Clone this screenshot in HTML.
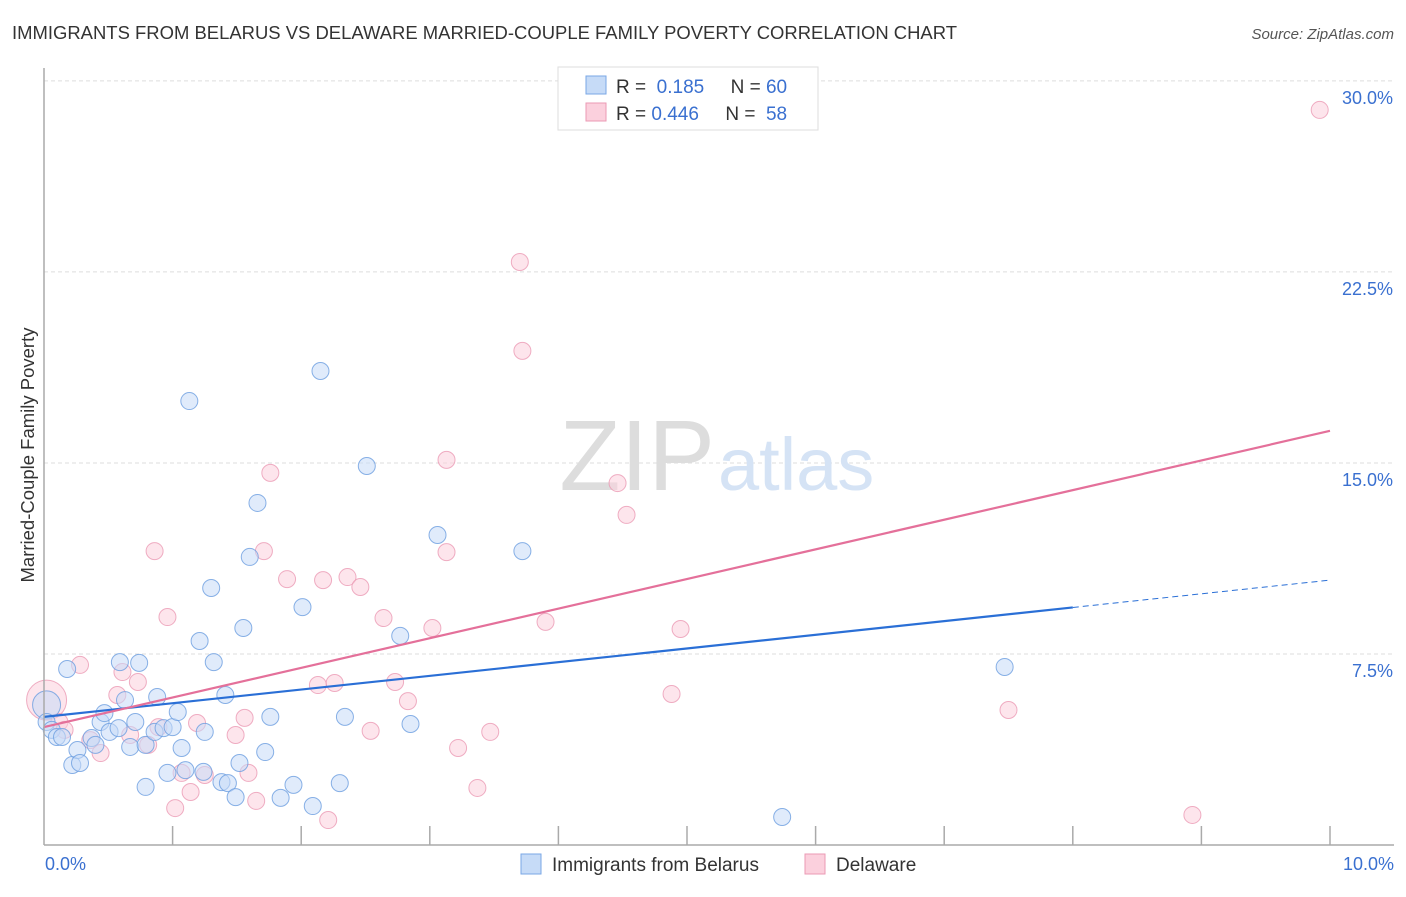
<!DOCTYPE html>
<html><head><meta charset="utf-8"><style>
body{margin:0;background:#fff;font-family:"Liberation Sans",sans-serif;}
svg text{font-family:"Liberation Sans",sans-serif;}
</style></head><body>
<svg width="1406" height="892" viewBox="0 0 1406 892">
<text x="12" y="39" font-size="18" fill="#333" textLength="945" lengthAdjust="spacingAndGlyphs">IMMIGRANTS FROM BELARUS VS DELAWARE MARRIED-COUPLE FAMILY POVERTY CORRELATION CHART</text>
<text x="1394" y="39" font-size="15" fill="#555" font-style="italic" text-anchor="end">Source: ZipAtlas.com</text>
<g id="grid"></g>
<text x="715" y="490" font-size="100" fill="#ddd" text-anchor="end" font-family="Liberation Serif">ZIP</text>
<text x="718" y="490" font-size="74" fill="#d5e3f5">atlas</text>
<g id="pts"></g>
<g id="lines"></g>
<line x1="44" y1="68" x2="44" y2="845" stroke="#aaa" stroke-width="1.5"/>
<line x1="44" y1="845" x2="1394" y2="845" stroke="#aaa" stroke-width="1.5"/>
<g id="ticks"></g>
<text x="34" y="455" font-size="18.5" fill="#333" text-anchor="middle" transform="rotate(-90 34 455)">Married-Couple Family Poverty</text>
<g>
<rect x="558" y="67" width="260" height="63" fill="#fff" stroke="#ddd"/>
<rect x="586" y="76" width="20" height="18" fill="#c6dbf7" stroke="#7aa7e6"/>
<rect x="586" y="103" width="20" height="18" fill="#fbd0dd" stroke="#eb9ab4"/>
<text x="616" y="93" font-size="19" fill="#333">R = <tspan fill="#3a70d0">&#160;0.185</tspan>&#160;&#160;&#160;&#160;&#160;N = <tspan fill="#3a70d0">60</tspan></text>
<text x="616" y="120" font-size="19" fill="#333">R = <tspan fill="#3a70d0">0.446</tspan>&#160;&#160;&#160;&#160;&#160;N = <tspan fill="#3a70d0">&#160;58</tspan></text>
</g>
<g>
<rect x="521" y="854" width="20" height="20" fill="#c6dbf7" stroke="#7aa7e6"/>
<text x="552" y="871" font-size="19" fill="#333">Immigrants from Belarus</text>
<rect x="805" y="854" width="20" height="20" fill="#fbd0dd" stroke="#eb9ab4"/>
<text x="836" y="871" font-size="19" fill="#333">Delaware</text>
</g>
</svg>
<script>
const yTicks=[7.5,15,22.5,30];
const yTickLabels=["7.5%","15.0%","22.5%","30.0%"];
const xTickLabels=["0.0%","10.0%"];
const blueX=[.02,.02,.06,.10,.14,.18,.22,.26,.28,.37,.40,.44,.47,.51,.58,.59,.63,.67,.71,.74,.79,.79,.86,.88,.93,.96,1.00,1.04,1.07,1.10,1.13,1.21,1.24,1.25,1.30,1.32,1.41,1.38,1.43,1.49,1.52,1.55,1.60,1.66,1.72,1.76,1.84,1.94,2.01,2.09,2.15,2.30,2.34,2.51,2.77,2.85,3.06,3.72,5.74,7.47];
const blueY=[5.50,4.83,4.52,4.24,4.24,6.91,3.14,3.73,3.22,4.20,3.93,4.83,5.18,4.44,4.59,7.18,5.69,3.85,4.83,7.15,3.93,2.28,4.44,5.81,4.59,2.83,4.63,5.22,3.81,2.94,17.43,8.01,2.87,4.44,10.09,7.18,5.89,2.47,2.43,1.88,3.22,8.52,11.31,13.43,3.65,5.03,1.85,2.36,9.34,1.53,18.61,2.43,5.03,14.88,8.21,4.75,12.17,11.54,1.10,6.99];
const pinkX=[.02,.12,.16,.28,.36,.44,.57,.61,.67,.73,.81,.86,.89,.96,1.02,1.07,1.14,1.19,1.25,1.49,1.56,1.59,1.65,1.71,1.76,1.89,2.13,2.17,2.21,2.26,2.36,2.46,2.54,2.64,2.73,2.83,3.02,3.13,3.13,3.22,3.37,3.47,3.70,3.72,3.90,4.46,4.53,4.88,4.95,7.50,8.93,9.92];
const pinkY=[5.69,4.83,4.52,7.07,4.12,3.61,5.89,6.79,4.32,6.40,3.93,11.54,4.63,8.95,1.45,2.83,2.08,4.79,2.75,4.32,4.99,2.83,1.73,11.54,14.61,10.44,6.28,10.40,0.98,6.36,10.52,10.13,4.48,8.91,6.40,5.65,8.52,11.50,15.12,3.81,2.24,4.44,22.89,19.40,8.76,14.21,12.96,5.93,8.48,5.30,1.18,28.86];
const blueFit=[5.03,10.40];
const pinkFit=[4.63,16.26];
const blueSolidEnd=8.0;
const X=v=>44+v*128.6, Y=v=>845-v*25.47;
const NS="http://www.w3.org/2000/svg";
function mk(t,a,p){const e=document.createElementNS(NS,t);for(const k in a)e.setAttribute(k,a[k]);p.appendChild(e);return e;}
const grid=document.getElementById('grid'),ticks=document.getElementById('ticks'),pts=document.getElementById('pts'),lines=document.getElementById('lines');
yTicks.forEach((v,i)=>{
 const l=mk('line',{x1:44,x2:1394,y1:Y(v),y2:Y(v),stroke:'#ddd','stroke-dasharray':'4,3'},grid);
 
 
 const t=mk('text',{x:1393,y:Y(v)+23,'font-size':18,fill:'#3a70d0','text-anchor':'end'},ticks);
 t.textContent=yTickLabels[i];
 
 
});
for(let i=1;i<=10;i++){
 const l=mk('line',{x1:X(i),x2:X(i),y1:826,y2:845,stroke:'#aaa','stroke-width':1.5},ticks);
 
 
}
[[0,'start',45],[10,'end',1394]].forEach((d,i)=>{
 const t=mk('text',{x:d[2],y:870,'font-size':18,fill:'#3a70d0','text-anchor':d[1]},ticks);
 t.textContent=xTickLabels[i];
 
 
});
function dots(xs,ys,fill,stroke,name){
 xs.forEach((x,i)=>{
  const r=i===0?(name==='pink-point'?20:14):8.5;
  const c=mk('circle',{cx:X(x),cy:Y(ys[i]),r:r,fill:fill,'fill-opacity':0.55,stroke:stroke,'stroke-width':1,'stroke-opacity':0.8},pts);
  
  
 });
}
dots(pinkX,pinkY,'#fbd0dd','#eb9ab4','pink-point');
dots(blueX,blueY,'#c6dbf7','#6b9de0','blue-point');
const bAt=x=>blueFit[0]+(blueFit[1]-blueFit[0])*x/10;
let l=mk('line',{x1:X(0),y1:Y(blueFit[0]),x2:X(blueSolidEnd),y2:Y(bAt(blueSolidEnd)),stroke:'#2a6fd6','stroke-width':2.2},lines);


l=mk('line',{x1:X(blueSolidEnd),y1:Y(bAt(blueSolidEnd)),x2:X(10),y2:Y(blueFit[1]),stroke:'#2a6fd6','stroke-width':1,'stroke-dasharray':'6,4'},lines);


l=mk('line',{x1:X(0),y1:Y(pinkFit[0]),x2:X(10),y2:Y(pinkFit[1]),stroke:'#e4709a','stroke-width':2.2},lines);


</script>
</body></html>
